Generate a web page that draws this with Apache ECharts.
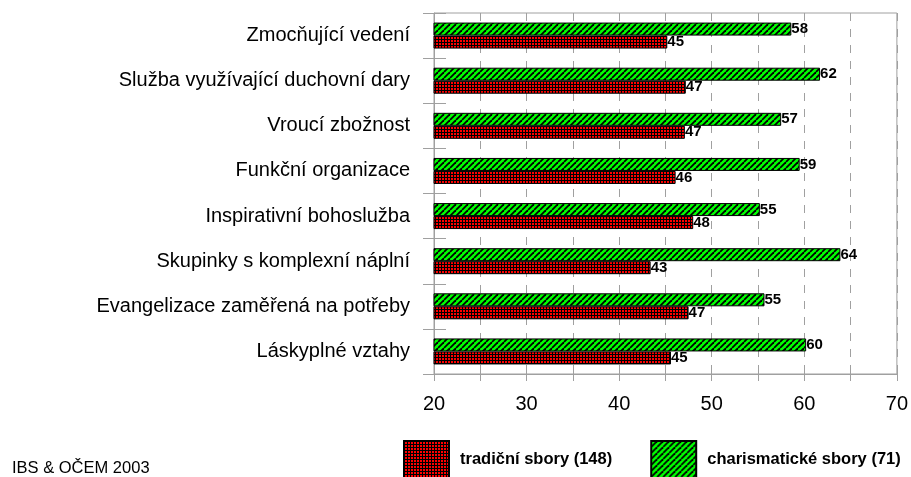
<!DOCTYPE html>
<html>
<head>
<meta charset="utf-8">
<title>Charakteristiky sborů</title>
<script src="https://cdn.jsdelivr.net/npm/echarts@6/dist/echarts.min.js"></script>
<style>
    html, body { margin: 0; padding: 0; background: #fff; }
    #main { width: 911px; height: 477px; }
</style>
</head>
<body>
<div id="main"></div>
<script>
// bar lengths; the printed numbers are kept as they appear
const categories = [
    'Zmocňující vedení',
    'Služba využívající duchovní dary',
    'Vroucí zbožnost',
    'Funkční organizace',
    'Inspirativní bohoslužba',
    'Skupinky s komplexní náplní',
    'Evangelizace zaměřená na potřeby',
    'Láskyplné vztahy'
];
const tradicni = [45.2, 47.2, 47.1, 46.1, 48.0, 43.4, 47.5, 45.6];
const charismaticke = [58.6, 61.7, 57.5, 59.5, 55.2, 63.9, 55.7, 60.2];
const tradicniLabels = [45, 47, 47, 46, 48, 43, 47, 45];
const charismatickeLabels = [58, 62, 57, 59, 55, 64, 55, 60];
const seriesNames = ['tradiční sbory (148)', 'charismatické sbory (71)'];
const footer = 'IBS & OČEM 2003';

const FONT = '"Liberation Sans", Arial, sans-serif';

// red with black grid
function gridPattern () {
    let c = document.createElement('canvas');
    c.width = 3;
    c.height = 3;
    let ctx = c.getContext('2d');
    ctx.fillStyle = '#000';
    ctx.fillRect(0, 0, 3, 3);
    ctx.fillStyle = '#ff0000';
    ctx.fillRect(1, 1, 2, 2);
    return c;
}

// green with black diagonal stripes
function hatchPattern () {
    let s = 6;
    let c = document.createElement('canvas');
    c.width = s;
    c.height = s;
    let ctx = c.getContext('2d');
    ctx.fillStyle = '#00ff00';
    ctx.fillRect(0, 0, s, s);
    ctx.strokeStyle = '#000';
    ctx.lineWidth = 1.8;
    for (let k = -1; k <= 1; k++) {
        ctx.beginPath();
        ctx.moveTo(k * s, s);
        ctx.lineTo(k * s + s, 0);
        ctx.stroke();
    }
    return c;
}

function valueLabel (texts) {
    return {
        show: true,
        position: 'right',
        distance: 0,
        color: '#000',
        fontFamily: FONT,
        fontWeight: 'bold',
        fontSize: 15,
        formatter: (p) => texts[p.dataIndex]
    };
}

let myChart = echarts.init(document.getElementById('main'));

myChart.setOption({
    animation: false,
    grid: {
        left: 434,
        right: 12,
        top: 13,
        bottom: 103,
        show: true,
        borderColor: '#a0a0a0',
        borderWidth: 1
    },
    legend: {
        data: seriesNames,
        left: 403,
        top: 440,
        padding: 0,
        itemWidth: 45,
        itemHeight: 37,
        itemGap: 38,
        icon: 'rect',
        textStyle: {
            fontFamily: FONT,
            fontWeight: 'bold',
            fontSize: 16.5,
            color: '#000',
            padding: [0, 0, 0, 6]
        }
    },
    graphic: [{
        type: 'text',
        left: 12,
        top: 460,
        style: {
            text: footer,
            fontFamily: FONT,
            fontSize: 16.5,
            fill: '#000'
        }
    }],
    xAxis: [{
        type: 'value',
        min: 20,
        max: 70,
        interval: 5,
        axisLine: { show: true, lineStyle: { color: '#a0a0a0' } },
        axisTick: { show: true, length: 7, lineStyle: { color: '#a0a0a0' } },
        axisLabel: {
            margin: 20,
            color: '#000',
            fontFamily: FONT,
            fontSize: 20,
            formatter: (v) => (v % 10 === 0 ? v : '')
        },
        splitLine: {
            show: true,
            lineStyle: { color: '#a0a0a0', type: [8, 8] }
        }
    }, {
        type: 'value',
        position: 'bottom',
        min: 20,
        max: 70,
        interval: 5,
        axisLine: { show: false },
        axisTick: { show: true, inside: true, length: 7, lineStyle: { color: '#a0a0a0' } },
        axisLabel: { show: false },
        splitLine: { show: false }
    }],
    yAxis: [{
        type: 'category',
        data: categories,
        inverse: true,
        axisLine: { show: true, lineStyle: { color: '#a0a0a0' } },
        axisTick: { show: true, length: 11, lineStyle: { color: '#a0a0a0' } },
        axisLabel: {
            margin: 24,
            color: '#000',
            fontFamily: FONT,
            fontSize: 20
        }
    }, {
        type: 'category',
        data: categories,
        inverse: true,
        position: 'left',
        axisLine: { show: false },
        axisTick: { show: true, inside: true, length: 12, lineStyle: { color: '#a0a0a0' } },
        axisLabel: { show: false }
    }],
    series: [{
        name: seriesNames[1],
        type: 'bar',
        data: charismaticke,
        barWidth: 13,
        barGap: '0%',
        itemStyle: {
            color: { image: hatchPattern(), repeat: 'repeat' },
            borderColor: '#000',
            borderWidth: 1
        },
        label: valueLabel(charismatickeLabels)
    }, {
        name: seriesNames[0],
        type: 'bar',
        data: tradicni,
        barWidth: 13,
        barGap: '0%',
        itemStyle: {
            color: { image: gridPattern(), repeat: 'repeat' },
            borderColor: '#000',
            borderWidth: 1
        },
        label: valueLabel(tradicniLabels)
    }]
});
</script>
</body>
</html>
